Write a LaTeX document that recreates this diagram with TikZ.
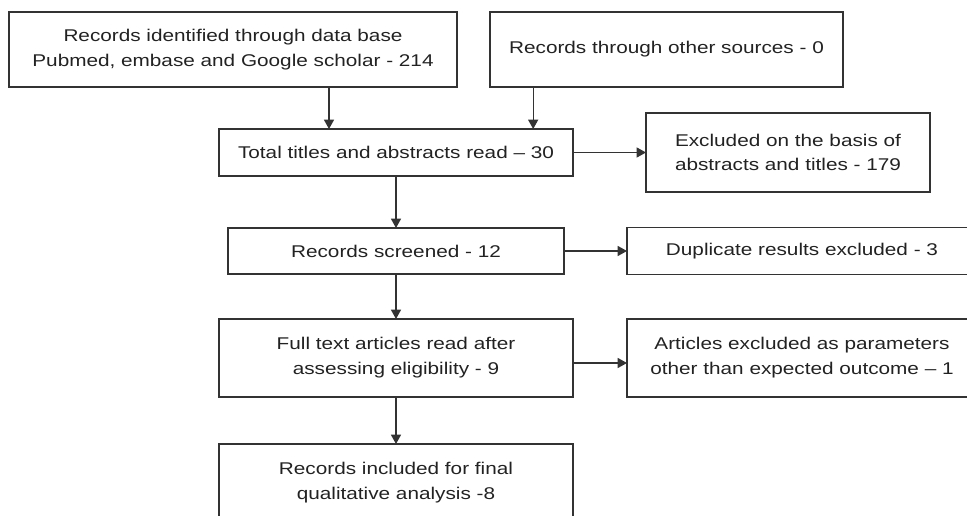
\documentclass[tikz,border=0pt]{standalone}
\usepackage{fontspec}
\setmainfont{Liberation Sans}[FakeStretch=1.22]
\usetikzlibrary{arrows.meta,positioning}
\definecolor{Ink}{HTML}{333333}
\definecolor{Txt}{HTML}{222222}

\begin{document}
\begin{tikzpicture}[
  x=0.75pt,y=-0.75pt,
  node distance=39pt and 54pt,
  flowbox/.style={draw=Ink,line width=0.95pt,inner sep=0pt,outer sep=0pt,align=center,text=Txt,font=\fontsize{12.75}{18.6}\selectfont},
  arrow/.style={-{Triangle[length=7pt,width=7.5pt]},line width=0.95pt,draw=Ink}
]
\useasboundingbox (0,0) rectangle (967,516);
\clip (0,0) rectangle (967,516);
\node[flowbox,minimum width=336pt,minimum height=56.25pt] (search) at (233,49.5) {Records identified through data base\\Pubmed, embase and Google scholar - 214};
\node[flowbox,minimum width=264.75pt,minimum height=56.25pt] (other) at (666.5,49.5) {Records through other sources - 0};
\node[flowbox,minimum width=265.5pt,minimum height=35.25pt] (titles) at (396,152.5) {Total titles and abstracts read -- 30};
\node[flowbox,minimum width=213pt,minimum height=59.25pt,right=54.75pt of titles] (excl) {Excluded on the basis of\\abstracts and titles - 179};
\node[flowbox,minimum width=252pt,minimum height=34.5pt,below=39pt of titles] (screen) {Records screened - 12};
\node[flowbox,minimum width=262.5pt,minimum height=35.25pt,right=47.25pt of screen] (dupl) {Duplicate results excluded - 3};
\node[flowbox,minimum width=265.5pt,minimum height=58.5pt,below=33.75pt of screen] (full) {Full text articles read after\\assessing eligibility - 9};
\node[flowbox,minimum width=262.5pt,minimum height=58.5pt,right=40.5pt of full] (param) {Articles excluded as parameters\\other than expected outcome -- 1};
\node[flowbox,minimum width=265.5pt,minimum height=58.5pt,below=35.25pt of full] (final) {Records included for final\\qualitative analysis -8};
\coordinate (j1) at ([xshift=72pt]search.south);
\coordinate (j2) at ([xshift=-100pt]other.south);
\draw[arrow] (j1) -- (j1 |- titles.north);
\draw[arrow] (j2) -- (j2 |- titles.north);
\draw[arrow] (titles) -- (excl);
\draw[arrow] (titles) -- (screen);
\draw[arrow] (screen) -- (dupl);
\draw[arrow] (screen) -- (full);
\draw[arrow] ([yshift=-3.75pt]full.east) -- ([yshift=-3.75pt]param.west);
\draw[arrow] (full) -- (final);
\end{tikzpicture}
\end{document}
